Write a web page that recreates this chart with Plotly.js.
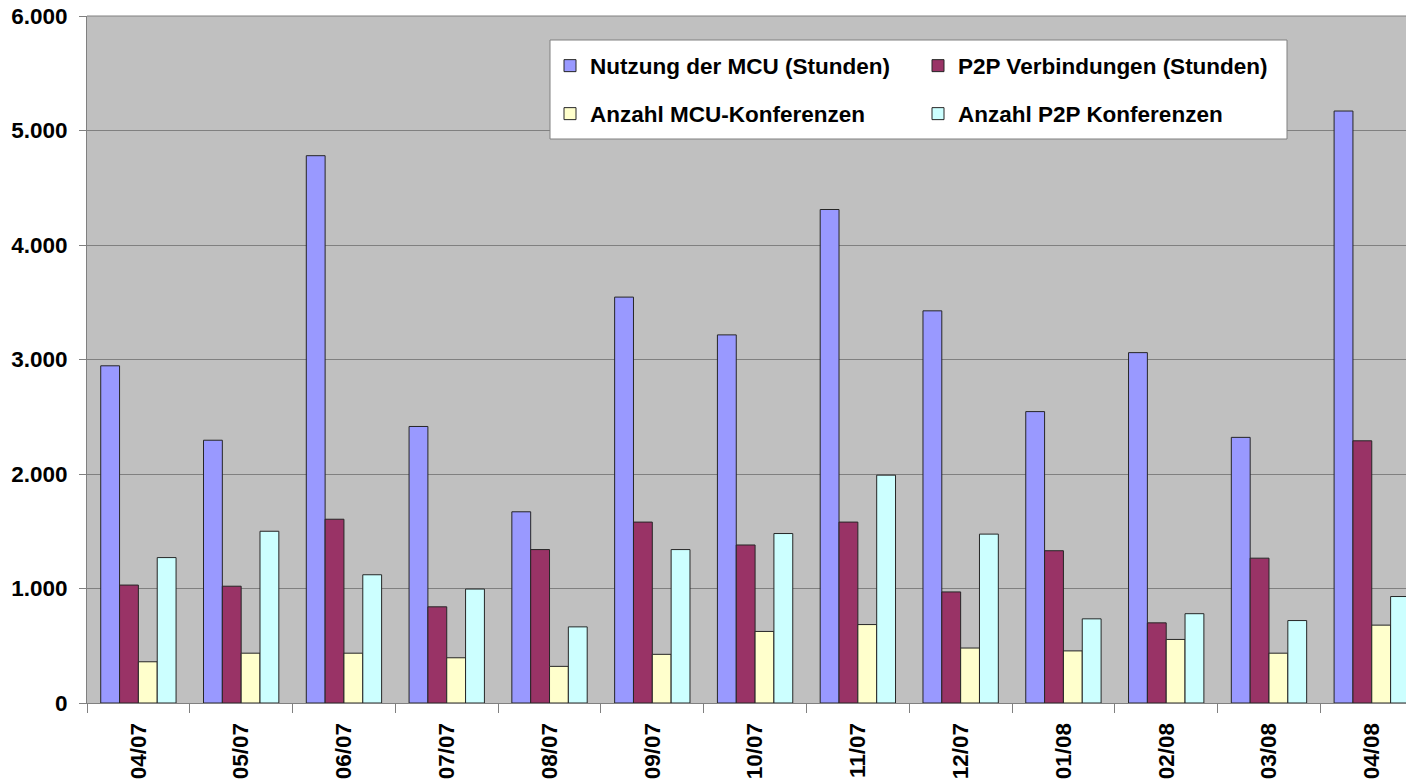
<!DOCTYPE html>
<html>
<head>
<meta charset="utf-8">
<script src="https://cdn.plot.ly/plotly-3.0.1.min.js"></script>
<style>html,body{margin:0;padding:0;background:#fff;}#chart{width:1406px;height:780px;}</style>
</head>
<body>
<div id="chart"></div>
<script>
const categories = ["04/07","05/07","06/07","07/07","08/07","09/07","10/07","11/07","12/07","01/08","02/08","03/08","04/08"];
const seriesNames = ["Nutzung der MCU (Stunden)","P2P Verbindungen (Stunden)","Anzahl MCU-Konferenzen","Anzahl P2P Konferenzen"];
const mcuHours = [2945, 2295, 4780, 2415, 1670, 3545, 3215, 4310, 3425, 2545, 3060, 2320, 5170];
const p2pHours = [1030, 1020, 1605, 840, 1340, 1580, 1380, 1580, 970, 1330, 700, 1265, 2290];
const mcuConf = [360, 435, 435, 395, 320, 425, 625, 685, 480, 455, 555, 435, 680];
const p2pConf = [1270, 1500, 1120, 995, 665, 1340, 1480, 1990, 1475, 735, 780, 720, 930];
const yTicks = [0, 1000, 2000, 3000, 4000, 5000, 6000];

const colors = ["#9999FF", "#993366", "#FFFFCC", "#CCFFFF"];
const values = [mcuHours, p2pHours, mcuConf, p2pConf];
const legends = ["legend", "legend", "legend2", "legend2"];
const FONT = "Liberation Sans, Arial, sans-serif";

const traces = values.map((v, i) => ({
  type: "bar",
  name: seriesNames[i],
  x: categories,
  y: v,
  legend: legends[i],
  marker: {color: colors[i], line: {color: "#262626", width: 1}},
  hoverinfo: "x+y+name"
}));

const L = 87, W = 1319, T = 16, H = 687;
const px = x => (x - L) / W;
const py = y => (T + H - y) / H;

const legendCommon = {
  orientation: "h",
  bgcolor: "rgba(0,0,0,0)",
  borderwidth: 0,
  entrywidth: 323,
  entrywidthmode: "pixels",
  xanchor: "left",
  yanchor: "middle",
  font: {family: FONT, size: 22.5, color: "#000", weight: "bold"},
  traceorder: "normal"
};

const layout = {
  width: 1406, height: 780,
  margin: {l: L, r: 0, t: T, b: 780 - T - H, pad: 0},
  paper_bgcolor: "#ffffff",
  plot_bgcolor: "#C0C0C0",
  separators: ",.",
  barmode: "group",
  bargap: 0.267,
  bargroupgap: 0,
  showlegend: true,
  font: {family: FONT, color: "#000"},
  xaxis: {
    type: "category",
    range: [-0.5, 12.333],
    tickson: "boundaries",
    ticks: "outside",
    ticklen: 9,
    tickcolor: "#808080",
    tickangle: -90,
    ticklabelstandoff: 10,
    showline: true,
    linecolor: "#808080",
    linewidth: 1,
    showgrid: false,
    tickfont: {family: FONT, size: 22.5, color: "#000", weight: "bold"},
    fixedrange: true
  },
  yaxis: {
    range: [0, 6000],
    tickvals: yTicks,
    tickformat: ",d",
    ticks: "outside",
    ticklen: 7,
    tickcolor: "#808080",
    ticklabelstandoff: 7,
    showline: true,
    linecolor: "#808080",
    linewidth: 1,
    showgrid: true,
    gridcolor: "#808080",
    gridwidth: 1,
    zeroline: false,
    tickfont: {family: FONT, size: 22.5, color: "#000", weight: "bold"},
    fixedrange: true
  },
  legend: Object.assign({}, legendCommon, {x: px(550), y: py(66)}),
  legend2: Object.assign({}, legendCommon, {x: px(550), y: py(114)}),
  shapes: [
    {type: "rect", xref: "paper", yref: "paper", x0: px(550), x1: px(1287), y0: py(139), y1: py(40),
     fillcolor: "#ffffff", line: {color: "#808080", width: 1}, layer: "above"},
    {type: "line", xref: "paper", yref: "paper", x0: 0, x1: 1, y0: 1, y1: 1,
     line: {color: "#808080", width: 1}, layer: "below"}
  ]
};

Plotly.newPlot("chart", traces, layout, {displayModeBar: false, staticPlot: true});
</script>
</body>
</html>
